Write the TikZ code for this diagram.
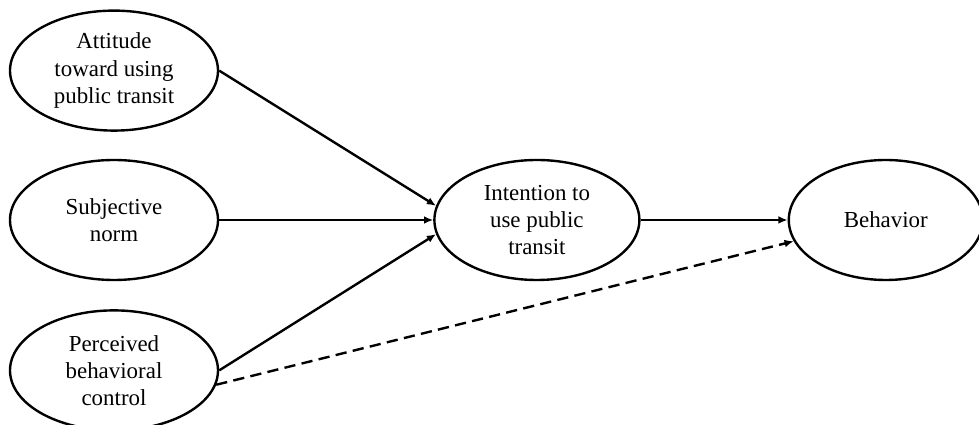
\documentclass[tikz,border=0pt]{standalone}
\usepackage{fontspec}
\setmainfont{Liberation Serif}
\usepackage{tikz}
\usetikzlibrary{positioning}
\usetikzlibrary{shapes.geometric}
\usetikzlibrary{arrows.meta}

\begin{document}
\begin{tikzpicture}[
  node distance=0.7cm and 3cm,
  mynode/.style={draw,ellipse,line width=1.7pt,align=center,inner sep=0pt,
    minimum width=5.2cm,minimum height=3cm,font=\fontsize{16.3}{19.3}\selectfont},
  link/.style={line width=1.7pt,-{Latex[length=6.5pt,width=5.5pt]}},
  dashlink/.style={link,dash pattern=on 8pt off 4.5pt}
]
\useasboundingbox (0,0) rectangle (24.475,10.625);

\node[mynode] (subj) at (2.85,5.125) {Subjective\\norm};
\node[mynode, above=0.675cm of subj] (att) {Attitude\\toward using\\public transit};
\node[mynode, below=0.7cm of subj] (pbc) {Perceived\\behavioral\\control};

\node[mynode, right=5.35cm of subj, minimum width=5.125cm] (int) {Intention to\\use public\\transit};
\node[mynode, right=3.675cm of int, minimum width=4.85cm] (beh) {Behavior};

\path (att.east) edge[link] (int.172)
(subj) edge[link] (int)
(pbc.east) edge[link] (int.188)
(int) edge[link] (beh)
;

\path (pbc.-8) edge[dashlink] (beh.193);

\end{tikzpicture}
\end{document}
